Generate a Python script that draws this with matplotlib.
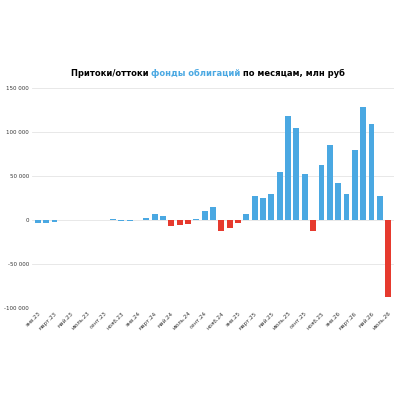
import matplotlib.pyplot as plt

months = ["янв", "февр", "март", "апр", "май", "июнь", "июль", "авг", "сент", "окт", "нояб", "дек"]
labels = []
for y in ["23", "24", "25", "26"]:
    for m in months:
        labels.append(m + "." + y)
labels = labels[:43]

values = [-3000, -3500, -2000, 0, 500, 0, 0, -300, 500, 800, -800, -1500, 0,
          2000, 6500, 4500, -6500, -5500, -4000, 1500, 10500, 15000, -12000, -9000, -3000,
          7000, 27000, 25000, 29000, 54000, 118000, 105000, 52000, -13000,
          62000, 85000, 42500, 30000, 80000, 128000, 109000, 27000, -87000]

blue = "#4aa8e2"
red = "#e63a2e"
# red only for the negative months that are drawn red in the reference
red_idx = [16, 17, 18, 22, 23, 24, 33, 42]
colors = [red if i in red_idx else blue for i in range(len(values))]

fig = plt.figure(figsize=(4, 4), dpi=100)
ax = fig.add_axes([0.08, 0.23, 0.905, 0.55])
x = range(len(values))
ax.bar(x, values, width=0.7, color=colors, zorder=3)
ax.set_ylim(-100000, 150000)
ax.set_xlim(-0.7, len(values) - 0.3)
ax.set_yticks([-100000, -50000, 0, 50000, 100000, 150000])
ax.set_yticklabels(["-100 000", "-50 000", "0", "50 000", "100 000", "150 000"], fontsize=4, color="#333333")
ax.set_xticks(list(x)[::2])
ax.set_xticklabels(labels[::2], rotation=45, ha="right", rotation_mode="anchor", fontsize=4, color="#333333")
ax.grid(axis="y", color="#e4e4e4", linewidth=0.6, zorder=0)
for s in ax.spines.values():
    s.set_visible(False)
ax.tick_params(length=0, pad=2)

# title in three pieces, laid out side by side
parts = [("Притоки/оттоки ", "black"), ("фонды облигаций", blue), (" по месяцам, млн руб", "black")]
r = fig.canvas.get_renderer()
texts = []
for s, c in parts:
    texts.append(fig.text(0, 0.81, s, fontsize=6, fontweight="bold", color=c, ha="left"))
widths = [t.get_window_extent(r).width for t in texts]
W = fig.get_figwidth() * fig.dpi
xpos = (W - sum(widths)) / 2 + 8
for t, w in zip(texts, widths):
    t.set_x(xpos / W)
    xpos += w

fig.savefig("out.png", dpi=100)
